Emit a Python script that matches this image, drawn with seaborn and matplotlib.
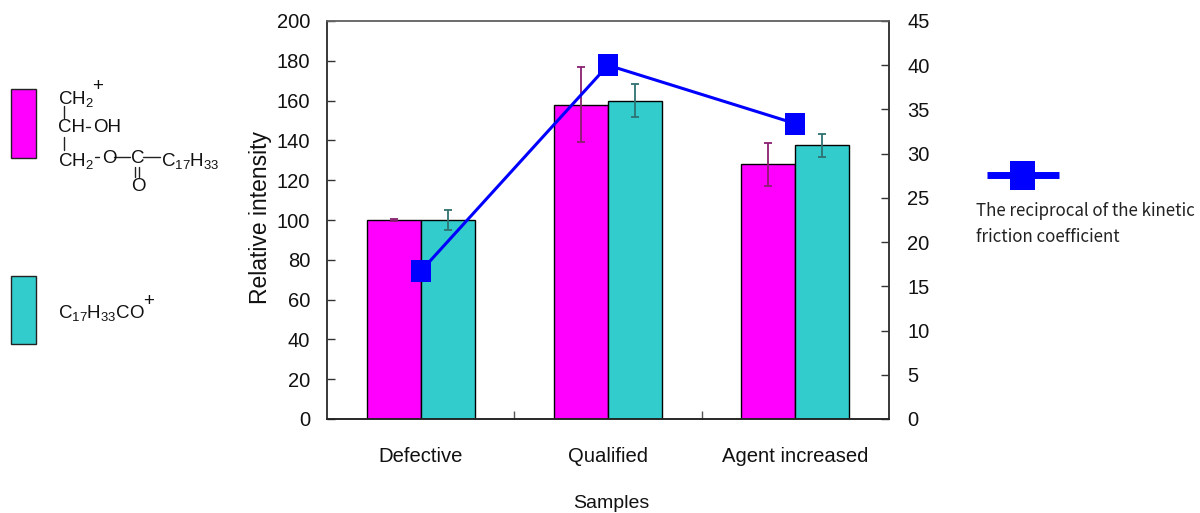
import pandas as pd
import seaborn as sns
import matplotlib.pyplot as plt
from matplotlib.lines import Line2D
from matplotlib.patches import Rectangle
from matplotlib.path import Path

samples = ["Defective", "Qualified", "Agent increased"]
ions = ["glyceride", "acyl"]
glyceride_values = [100, 158, 128]
acyl_values = [100, 160, 137.5]
glyceride_err = [0.7, 19, 10.8]
acyl_err = [5.2, 8.4, 5.7]
reciprocal_friction = [16.7, 40, 33.4]
left_ticks = [0, 20, 40, 60, 80, 100, 120, 140, 160, 180, 200]
right_ticks = [0, 5, 10, 15, 20, 25, 30, 35, 40, 45]

MAGENTA = "#ff00ff"
TEAL = "#33cccc"
BLUE = "#0000ff"

W, H = 1200, 513


def px(x, y):
    return x / W, 1 - y / H


def bond(fig, x0, y0, x1, y1, lw=1.0):
    a, b = px(x0, y0), px(x1, y1)
    fig.add_artist(Line2D([a[0], b[0]], [a[1], b[1]], color="#222222", lw=lw))


sns.set_style("white")
plt.rcParams["font.family"] = ["Liberation Sans"]
plt.rcParams["mathtext.default"] = "regular"
plt.rcParams["text.color"] = "#111111"
plt.rcParams["axes.labelcolor"] = "#111111"
plt.rcParams["xtick.labelcolor"] = "#111111"
plt.rcParams["ytick.labelcolor"] = "#111111"

fig = plt.figure(figsize=(12, 5.13), dpi=100)
ax = fig.add_axes([327 / W, 1 - 419 / H, (889 - 327) / W, (419 - 21) / H])

df = pd.DataFrame({
    "sample": samples * 2,
    "ion": [ions[0]] * 3 + [ions[1]] * 3,
    "value": glyceride_values + acyl_values,
})
sns.barplot(data=df, x="sample", y="value", hue="ion", order=samples, hue_order=ions,
            palette=[MAGENTA, TEAL], saturation=1, width=0.576, gap=0, edgecolor="black", linewidth=1,
            legend=False, ax=ax)

# error bars sit on the bar centres seaborn worked out
for container, vals, errs, col in zip(ax.containers, [glyceride_values, acyl_values],
                                      [glyceride_err, acyl_err], ["#8a2070", "#2f7272"]):
    xs = [b.get_x() + b.get_width() / 2 for b in container]
    ax.errorbar(xs, vals, yerr=errs, fmt="none", ecolor=col, elinewidth=1.3, capsize=2.9, capthick=1.3, zorder=5)

ax.set_xlim(-0.5, 2.5)
ax.set_ylim(0, 200)
ax.set_yticks(left_ticks)
ax.set_xticks([0.5, 1.5], minor=True)
ax.tick_params(axis="x", which="major", length=0, pad=20.5, labelsize=14.6)
ax.tick_params(axis="x", which="minor", bottom=True, direction="in", length=6, width=1, color="#555555")
ax.tick_params(axis="y", direction="in", left=True, length=6, width=1, color="#333333", pad=12, labelsize=14.5)
ax.set_xlabel("Samples", fontsize=14)
ax.xaxis.set_label_coords((611 - 327) / 562, -(504 - 419) / 398, transform=ax.transAxes)
ax.xaxis.label.set_va("center")
ax.set_ylabel("Relative intensity", fontsize=16.5)
ax.yaxis.set_label_coords((261 - 327) / 562, (419 - 217) / 398, transform=ax.transAxes)
ax.yaxis.label.set_va("center")

ax2 = ax.twinx()
marker = Path([(-19, -22), (19, -22), (19, 22), (-19, 22), (-19, -22)], closed=True)
line_df = pd.DataFrame({"sample": samples, "friction": reciprocal_friction})
sns.lineplot(data=line_df, x="sample", y="friction", sort=False, color=BLUE, linewidth=2.2,
             marker=marker, markersize=16, markeredgewidth=0, markerfacecolor=BLUE, ax=ax2)
ax2.set_ylim(0, 45)
ax2.set_yticks(right_ticks)
ax2.set_ylabel("")
ax2.tick_params(axis="y", direction="in", right=True, length=6, width=1, color="#333333", pad=13, labelsize=14.5)

for a in (ax, ax2):
    for side, sp in a.spines.items():
        sp.set_visible(True)
        sp.set_linewidth(1.1)
        sp.set_color("#333333")
    a.spines["top"].set_color("#666666")
    a.spines["bottom"].set_color("#222222")

# left key: swatches with the ion formulas
for y0, y1, col in [(89, 158, MAGENTA), (276, 344, TEAL)]:
    x, y = px(11, y1)
    fig.add_artist(Rectangle((x, y), 25 / W, (y1 - y0) / H, transform=fig.transFigure,
                             facecolor=col, edgecolor="#222222", lw=1))

fs = 13.5
fig.text(*px(58, 99), "CH$_2$", fontsize=fs, va="center", ha="left")
fig.text(*px(92, 87), "+", fontsize=fs, va="center", ha="left")
fig.text(*px(58, 128), "CH", fontsize=fs, va="center", ha="left")
fig.text(*px(93, 128), "OH", fontsize=fs, va="center", ha="left")
fig.text(*px(58, 161), "CH$_2$", fontsize=fs, va="center", ha="left")
fig.text(*px(102, 159), "O", fontsize=fs, va="center", ha="left")
fig.text(*px(131, 159), "C", fontsize=fs, va="center", ha="left")
fig.text(*px(161, 161), "C$_{17}$H$_{33}$", fontsize=fs, va="center", ha="left")
fig.text(*px(131, 187), "O", fontsize=fs, va="center", ha="left")
fig.text(*px(58, 313), "C$_{17}$H$_{33}$CO", fontsize=fs, va="center", ha="left")
fig.text(*px(143, 302), "+", fontsize=fs, va="center", ha="left")

bond(fig, 64, 106, 64, 118)
bond(fig, 64, 137, 64, 150)
bond(fig, 86, 127, 90, 127)
bond(fig, 95, 157, 99, 157)
bond(fig, 114, 157, 130, 157)
bond(fig, 143, 157, 160, 157)
bond(fig, 135, 167, 135, 177)
bond(fig, 139, 167, 139, 177)

# right key for the line
lx0, ly = px(987, 175)
lx1, _ = px(1059, 175)
fig.add_artist(Line2D([lx0, lx1], [ly, ly], color=BLUE, lw=5, solid_capstyle="butt"))
mx, my = px(1010, 190)
fig.add_artist(Rectangle((mx, my), 25 / W, 29 / H, transform=fig.transFigure, facecolor=BLUE, edgecolor="none"))
fig.text(*px(976, 211), "The reciprocal of the kinetic", fontsize=12.2, va="center", ha="left",
         family="Noto Sans CJK JP", color="#222222")
fig.text(*px(976, 237), "friction coefficient", fontsize=12.2, va="center", ha="left",
         family="Noto Sans CJK JP", color="#222222")

fig.savefig("out.png", dpi=100)
